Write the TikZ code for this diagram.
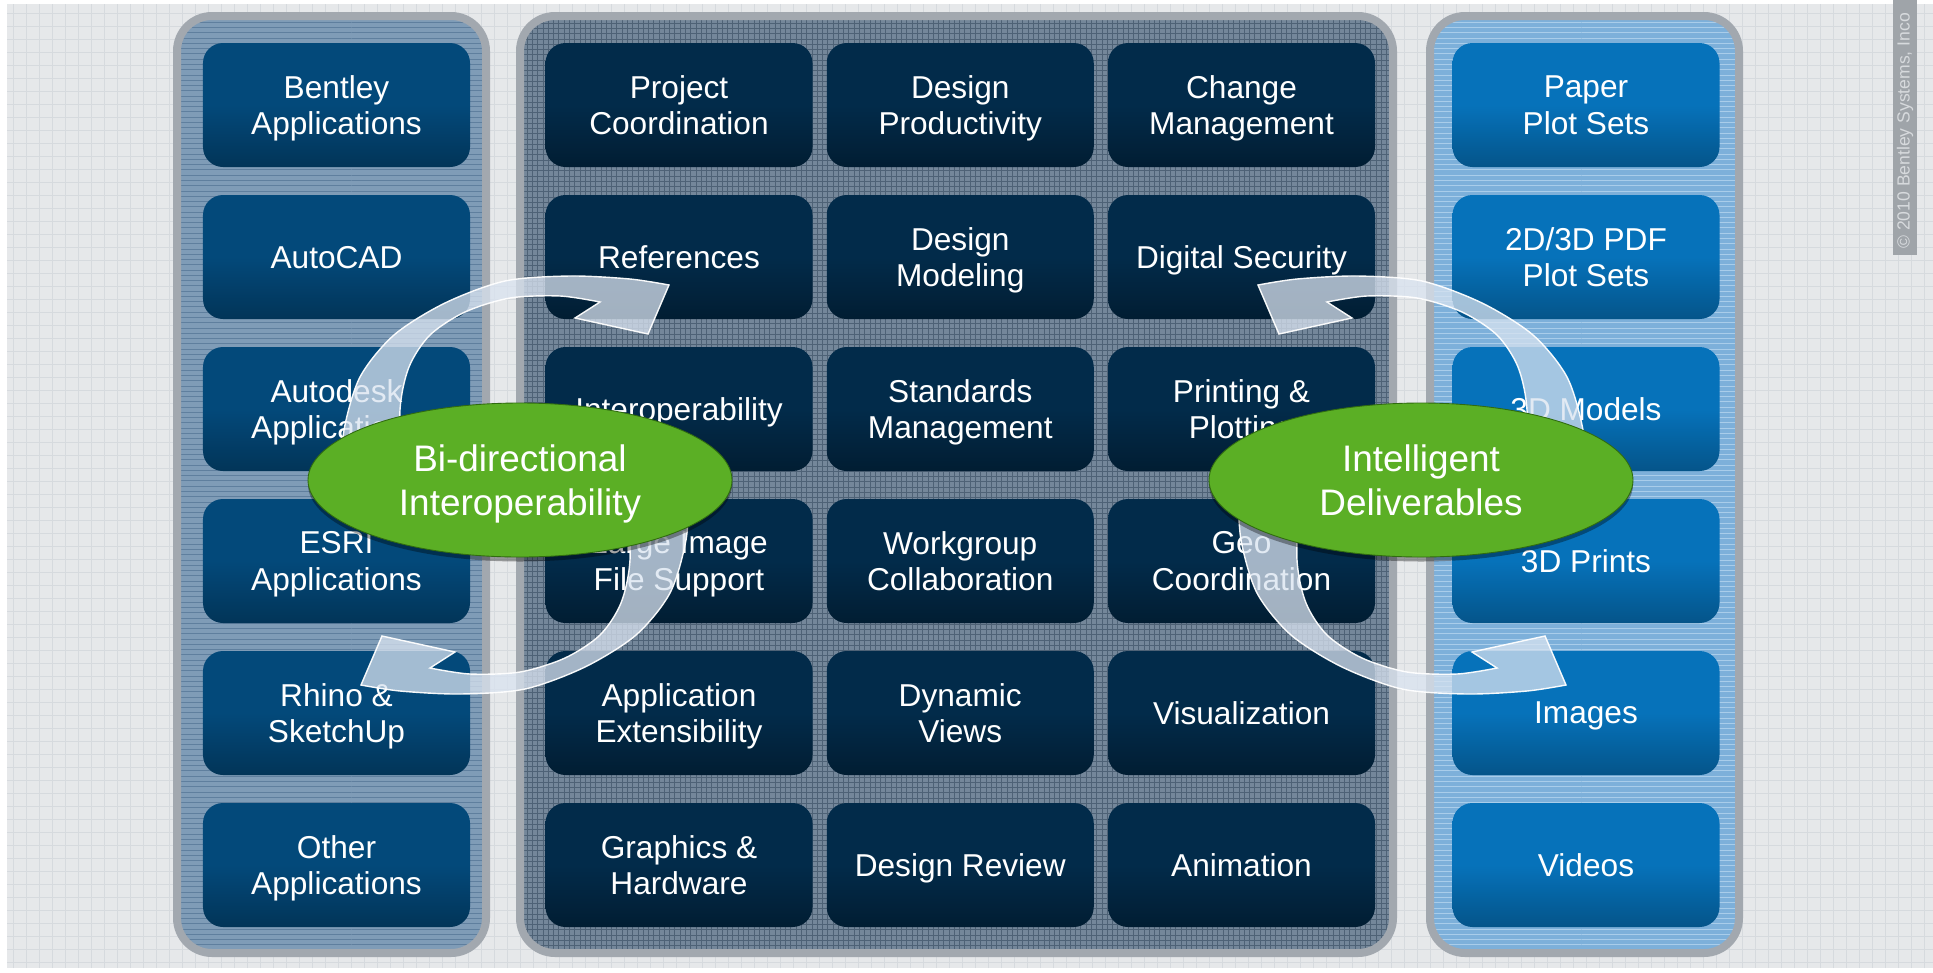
\documentclass[tikz,border=0pt]{standalone}
\usepackage{fontspec}
\setmainfont{Liberation Sans}
\usetikzlibrary{shapes.geometric,patterns}

\definecolor{paper}{HTML}{E6E8EA}
\definecolor{paperline}{HTML}{D6DADE}
\definecolor{rim}{HTML}{A2A8AF}
\definecolor{leftfill}{HTML}{7F9CB7}
\definecolor{leftline}{HTML}{5F7F9E}
\definecolor{midfill}{HTML}{74879A}
\definecolor{midline}{HTML}{4E6276}
\definecolor{rightfill}{HTML}{7DB0DA}
\definecolor{rightline}{HTML}{A9CDEA}
\definecolor{leftbox}{HTML}{03497A}
\definecolor{midbox}{HTML}{022B4A}
\definecolor{rightbox}{HTML}{0672BA}
\definecolor{leafgreen}{HTML}{5BAF25}
\definecolor{leafdark}{HTML}{3C8613}
\definecolor{swirl}{HTML}{D9E3F0}
\definecolor{stripgray}{HTML}{9FA4A9}
\definecolor{stripink}{HTML}{D7DADD}

\pgfdeclareradialshading{leafshade}{\pgfpoint{0bp}{0bp}}{color(0bp)=(leafgreen); color(40bp)=(leafgreen); color(49bp)=(leafdark); color(100bp)=(leafdark)}

\tikzset{
  panel/.style={draw=rim, line width=1.6mm, rounded corners=7mm},
  tile/.style={rounded corners=4mm, minimum width=53.4mm, minimum height=24.8mm,
    inner sep=0pt, text depth=0pt, text=white, align=center, font=\fontsize{18}{21}\selectfont},
  lefttile/.style={tile, top color=leftbox, bottom color=leftbox!72!black, middle color=leftbox},
  midtile/.style={tile, top color=midbox, bottom color=midbox!68!black, middle color=midbox},
  righttile/.style={tile, top color=rightbox, bottom color=rightbox!74!black, middle color=rightbox},
  leaf/.style={ellipse, minimum width=84.8mm, minimum height=30.8mm, inner sep=0pt, text depth=0pt,
    preaction={fill=black, opacity=0.35, transform canvas={yshift=-0.9mm}},
    shading=leafshade, draw=leafdark!80!black, line width=0.5pt, text=white, align=center,
    font=\fontsize{21}{25}\selectfont},
  swirlarrow/.style={fill=swirl, fill opacity=0.75, draw=white, draw opacity=0.95, line width=0.8pt},
  pics/looparrow/.style={code={
    \path[swirlarrow] plot[smooth] coordinates {(-174,-5) (-171,-55) (-155,-108) (-121,-150) (-70,-182) (-10,-204) (55,-209) (115,-206) (154,-200)}
      -- (133,-151) -- (60,-167)
      -- plot[smooth] coordinates {(85,-183) (45,-189) (-5,-187) (-50,-173) (-85,-150) (-106,-118) (-115,-75) (-113,-5)}
      -- cycle;
  }},
}

\begin{document}
\begin{tikzpicture}[x=0.2mm, y=-0.2mm]
  \useasboundingbox (0,0) rectangle (1933,972);
  \fill[white] (0,0) rectangle (1933,972);
  \fill[paper] (7,4) rectangle (1933,968);
  \draw[paperline, line width=0.3pt, step=2.6mm] (7,4) grid (1933,968);

  % panels
  \foreach \xa/\xb/\tint/\ink/\patt in {177/486/leftfill/leftline/horizontal lines,
      520/1393/midfill/midline/grid, 1430/1739/rightfill/rightline/horizontal lines} {
    \fill[\tint, rounded corners=7mm] (\xa,16) rectangle (\xb,953);
    \fill[pattern=\patt, pattern color=\ink, rounded corners=7mm] (\xa,16) rectangle (\xb,953);
    \draw[panel] (\xa,16) rectangle (\xb,953);
  }

  % sources
  \foreach [count=\i] \name/\txt in {bentley/{Bentley\\Applications}, autocad/AutoCAD,
      autodesk/{Autodesk\\Applications}, esri/{ESRI\\Applications},
      rhino/{Rhino \&\\SketchUp}, other/{Other\\Applications}} {
    \node[lefttile] (\name) at (336.5, {105+152*(\i-1)}) {\txt};
  }

  % platform
  \foreach [count=\i] \name/\txt in {coord/{Project\\Coordination}, prod/{Design\\Productivity}, change/{Change\\Management},
      refs/References, modeling/{Design\\Modeling}, security/{Digital Security},
      interop/Interoperability, standards/{Standards\\Management}, printing/{Printing \&\\Plotting},
      largeimg/{Large Image\\File Support}, workgroup/{Workgroup\\Collaboration}, geo/{Geo\\Coordination},
      extens/{Application\\Extensibility}, dynamic/{Dynamic\\Views}, visual/Visualization,
      graphics/{Graphics \&\\Hardware}, review/{Design Review}, anim/Animation} {
    \pgfmathtruncatemacro\colno{mod(\i-1,3)}
    \pgfmathtruncatemacro\rowno{div(\i-1,3)}
    \node[midtile] (\name) at ({679+281.25*\colno}, {105+152*\rowno}) {\txt};
  }

  % deliverables
  \foreach [count=\i] \name/\txt in {paper/{Paper\\Plot Sets}, pdf/{2D/3D PDF\\Plot Sets}, models/{3D Models},
      prints/{3D Prints}, images/Images, videos/Videos} {
    \node[righttile] (\name) at (1586, {105+152*(\i-1)}) {\txt};
  }

  % swirls
  \pic at (515,485) {looparrow};
  \pic[rotate=180] at (515,485) {looparrow};
  \pic[xscale=-1] at (1412,485) {looparrow};
  \pic[yscale=-1] at (1412,485) {looparrow};

  \node[leaf] (bidir) at (520,480) {Bi-directional\\Interoperability};
  \node[leaf] (smartdel) at (1421,480) {Intelligent\\Deliverables};

  % copyright strip
  \fill[stripgray] (1893,0) rectangle (1917,255);
  \node[rotate=90, anchor=west, inner sep=0pt, text=stripink, font=\fontsize{10}{11}\selectfont] (copyr) at (1905,249) {© 2010 Bentley Systems, Inco};
\end{tikzpicture}
\end{document}
